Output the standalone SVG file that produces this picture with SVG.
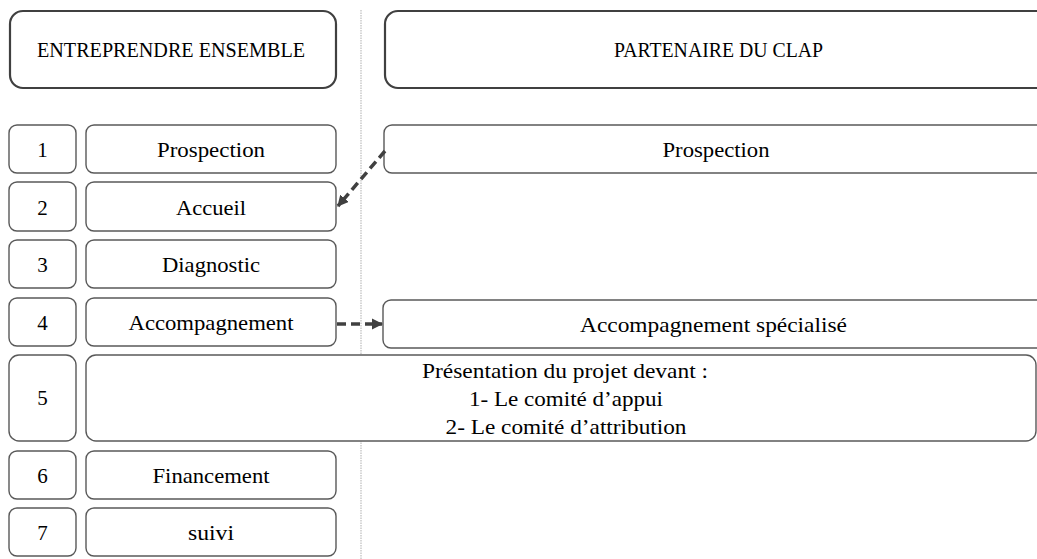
<svg xmlns="http://www.w3.org/2000/svg" width="1037" height="559" viewBox="0 0 1037 559">
<style>
.hdr{fill:#fff;stroke:#404040;stroke-width:2.2}
.bx{fill:#fff;stroke:#595959;stroke-width:1.4}
.t{font-family:"Liberation Serif","Times New Roman",serif;font-size:21px;fill:#000;text-anchor:middle}
.c{fill:none;stroke:#404040;stroke-width:3.5;stroke-dasharray:9 5}
</style>
<defs>
<marker id="ah" viewBox="0 0 10 10" refX="9" refY="5" markerWidth="3.2" markerHeight="3.2" orient="auto" markerUnits="strokeWidth">
<path d="M0,0 L10,5 L0,10 z" fill="#404040"/>
</marker>
</defs>
<rect width="1037" height="559" fill="#fff"/>
<line x1="361" y1="10" x2="361" y2="559" stroke="#bdbdbd" stroke-width="1.2" stroke-dasharray="1.5 1"/>

<g id="hdr-left"><rect class="hdr" x="10" y="11" width="326" height="77" rx="13"/><text class="t" x="171" y="57" textLength="268" lengthAdjust="spacingAndGlyphs">ENTREPRENDRE ENSEMBLE</text></g>
<g id="hdr-right"><rect class="hdr" x="385" y="11" width="680" height="77" rx="13"/><text class="t" x="718.5" y="57" textLength="209" lengthAdjust="spacingAndGlyphs">PARTENAIRE DU CLAP</text></g>

<g id="n1"><rect class="bx" x="9" y="125" width="67" height="48" rx="8"/><text class="t" x="42.5" y="157">1</text></g>
<g id="s1"><rect class="bx" x="86" y="125" width="250" height="48" rx="8"/><text class="t" x="211" y="157" textLength="108" lengthAdjust="spacingAndGlyphs">Prospection</text></g>
<g id="n2"><rect class="bx" x="9" y="182" width="67" height="49" rx="8"/><text class="t" x="42.5" y="215">2</text></g>
<g id="s2"><rect class="bx" x="86" y="182" width="250" height="49" rx="8"/><text class="t" x="211" y="215" textLength="70" lengthAdjust="spacingAndGlyphs">Accueil</text></g>
<g id="n3"><rect class="bx" x="9" y="240" width="67" height="48" rx="8"/><text class="t" x="42.5" y="272">3</text></g>
<g id="s3"><rect class="bx" x="86" y="240" width="250" height="48" rx="8"/><text class="t" x="211" y="272" textLength="98" lengthAdjust="spacingAndGlyphs">Diagnostic</text></g>
<g id="n4"><rect class="bx" x="9" y="298" width="67" height="48" rx="8"/><text class="t" x="42.5" y="330">4</text></g>
<g id="s4"><rect class="bx" x="86" y="298" width="250" height="48" rx="8"/><text class="t" x="211" y="330" textLength="165" lengthAdjust="spacingAndGlyphs">Accompagnement</text></g>
<g id="n5"><rect class="bx" x="9" y="355" width="67" height="86" rx="10"/><text class="t" x="42.5" y="405">5</text></g>
<g id="s5"><rect class="bx" x="86" y="355" width="950" height="86" rx="10"/>
<text class="t" x="565" y="378" textLength="286" lengthAdjust="spacingAndGlyphs">Présentation du projet devant :</text>
<text class="t" x="566" y="406" textLength="194" lengthAdjust="spacingAndGlyphs">1- Le comité d’appui</text>
<text class="t" x="566" y="434" textLength="241" lengthAdjust="spacingAndGlyphs">2- Le comité d’attribution</text></g>
<g id="n6"><rect class="bx" x="9" y="451" width="67" height="48" rx="8"/><text class="t" x="42.5" y="483">6</text></g>
<g id="s6"><rect class="bx" x="86" y="451" width="250" height="48" rx="8"/><text class="t" x="211" y="483" textLength="117" lengthAdjust="spacingAndGlyphs">Financement</text></g>
<g id="n7"><rect class="bx" x="9" y="508" width="67" height="48" rx="8"/><text class="t" x="42.5" y="540">7</text></g>
<g id="s7"><rect class="bx" x="86" y="508" width="250" height="48" rx="8"/><text class="t" x="211" y="540" textLength="46" lengthAdjust="spacingAndGlyphs">suivi</text></g>

<g id="p1"><rect class="bx" x="384" y="125" width="680" height="48" rx="8"/><text class="t" x="716" y="157" textLength="107" lengthAdjust="spacingAndGlyphs">Prospection</text></g>
<g id="p4"><rect class="bx" x="383" y="300" width="680" height="48" rx="8"/><text class="t" x="713.5" y="332" textLength="267" lengthAdjust="spacingAndGlyphs">Accompagnement  spécialisé</text></g>

<g id="connectors">
<line class="c" x1="385" y1="151" x2="338" y2="206" marker-end="url(#ah)"/>
<line class="c" x1="337" y1="324" x2="382" y2="324" marker-end="url(#ah)"/>
</g>
</svg>
